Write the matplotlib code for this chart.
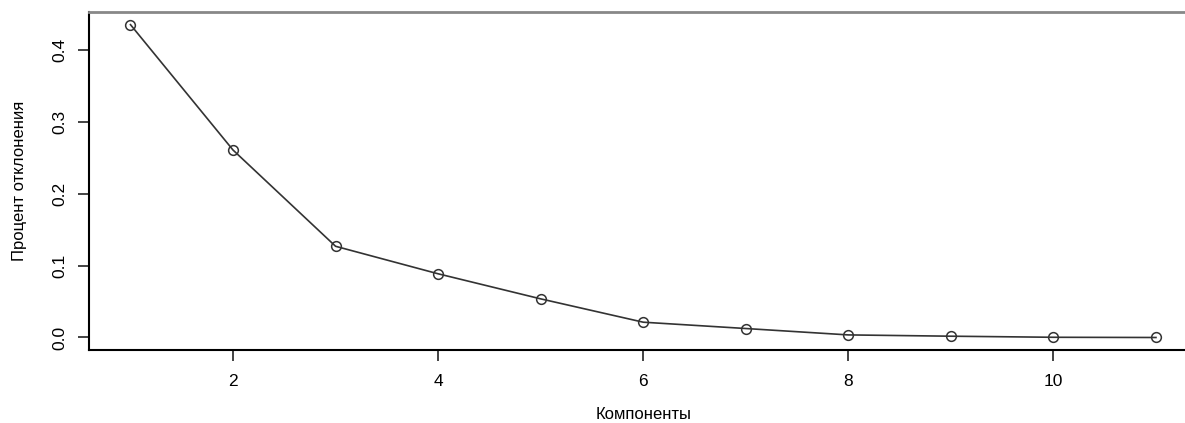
import matplotlib.pyplot as plt

# ========== 数据 ==========
components = [1, 2, 3, 4, 5, 6, 7, 8, 9, 10, 11]
variance = [0.4356, 0.261, 0.127, 0.0887, 0.0538, 0.0213, 0.0125, 0.0036, 0.0018, 0.0003, 0.0]
x_ticks = [2, 4, 6, 8, 10]
y_ticks = [0.0, 0.1, 0.2, 0.3, 0.4]

plt.rcParams['font.family'] = ['Liberation Sans', 'DejaVu Sans']

fig = plt.figure(figsize=(11.85, 4.23), dpi=100)
# 绘图区右边界超出画布 (原图被裁切)
ax = fig.add_axes([0.0755, 0.1726, 0.9346, 0.799])

ax.plot(components, variance, color='#333333', lw=1.2,
        marker='o', markersize=7, markerfacecolor='none',
        markeredgecolor='#333333', markeredgewidth=1.1)

ax.set_xlim(0.6, 11.4)
ax.set_ylim(-0.0174, 0.4532)
ax.set_xticks(x_ticks)
ax.set_yticks(y_ticks)
ax.set_yticklabels([f'{v:.1f}' for v in y_ticks], rotation=90, va='center')

ax.tick_params(axis='both', labelsize=12.5, length=8, width=1.2, color='#222222')
ax.tick_params(axis='x', pad=9)
ax.tick_params(axis='y', pad=8)

ax.spines['right'].set_visible(False)
ax.spines['top'].set_color('#888888')
ax.spines['top'].set_linewidth(2)
ax.spines['left'].set_linewidth(1.5)
ax.spines['bottom'].set_linewidth(1.5)

ax.set_xlabel('Компоненты', fontsize=12, labelpad=13)
ax.set_ylabel('Процент отклонения', fontsize=12, labelpad=18)

fig.savefig('out.png', dpi=100)
